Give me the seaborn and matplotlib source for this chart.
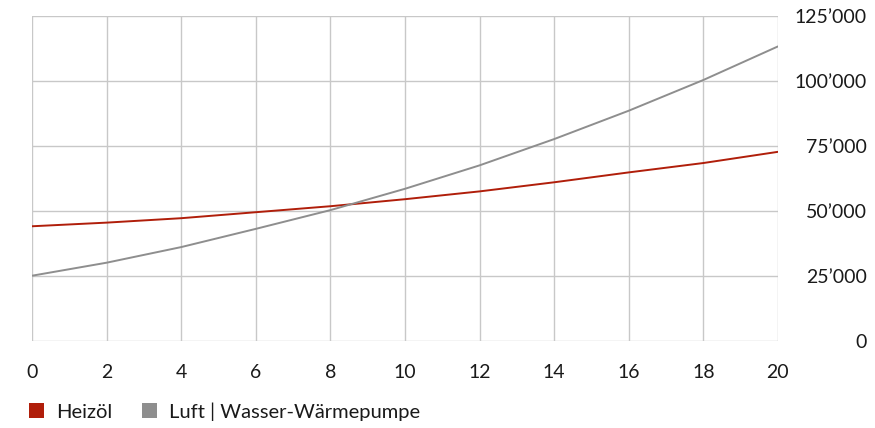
import numpy as np
import pandas as pd
import matplotlib.pyplot as plt
import seaborn as sns
from matplotlib.patches import Patch
from matplotlib.ticker import FuncFormatter

# values, every 2 years
jahre = [0, 2, 4, 6, 8, 10, 12, 14, 16, 18, 20]
heizoel = [44200, 45600, 47300, 49600, 51900, 54600, 57600, 61100, 64900, 68500, 72800]
waermepumpe = [25200, 30200, 36200, 43200, 50400, 58600, 67600, 77700, 88600, 100400, 113300]
serien = ['Heizöl', 'Luft | Wasser-Wärmepumpe']
farben = ['#b01e0a', '#8e8e8e']
y_ticks = [0, 25000, 50000, 75000, 100000, 125000]

df = pd.DataFrame({'Jahr': jahre * 2,
                   'Kosten': heizoel + waermepumpe,
                   'Serie': [serien[0]] * len(jahre) + [serien[1]] * len(jahre)})

sns.set_style('white')
plt.rcParams['font.family'] = ['Lato', 'DejaVu Sans']

fig, ax = plt.subplots(figsize=(8.75, 4.28), dpi=100)
fig.subplots_adjust(left=0.0366, right=0.889, top=0.9626, bottom=0.2026)

sns.lineplot(data=df, x='Jahr', y='Kosten', hue='Serie', palette=farben,
             linewidth=1.4, legend=False, ax=ax)

ax.set_xlim(0, 20)
ax.set_ylim(0, 125000)
ax.set_xticks(range(0, 21, 2))
ax.set_yticks(y_ticks)
ax.yaxis.set_major_formatter(FuncFormatter(lambda v, p: f'{int(v):,}'.replace(',', '\u2019')))
ax.yaxis.tick_right()
ax.grid(True, color='#c8c8c8', linewidth=1)
for s in ax.spines.values():
    s.set_visible(False)
ax.tick_params(axis='x', length=0, pad=16, labelsize=14, colors='#1a1a1a')
ax.tick_params(axis='y', length=0, pad=64, labelsize=14, colors='#1a1a1a')
for lab in ax.get_yticklabels():
    lab.set_horizontalalignment('right')
ax.set_xlabel('')
ax.set_ylabel('')

handles = [Patch(facecolor=c, edgecolor='none') for c in farben]
fig.legend(handles, serien, loc='lower left', bbox_to_anchor=(0.012, -0.025), ncol=2,
           frameon=False, fontsize=14.5, handlelength=0.75, handleheight=0.75,
           handletextpad=0.6, columnspacing=1.5, labelcolor='#1a1a1a')

plt.savefig('out.png', dpi=100)
